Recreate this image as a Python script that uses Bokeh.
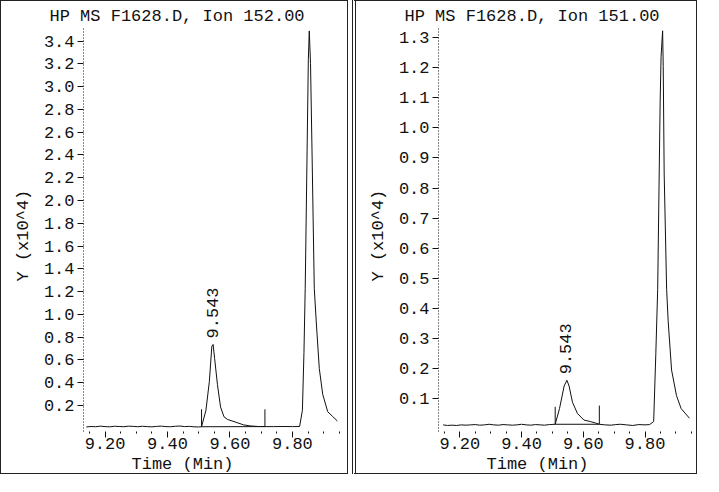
import math
from bokeh.plotting import figure
from bokeh.layouts import row
from bokeh.models import FixedTicker, Range1d, PrintfTickFormatter, Title
from bokeh.embed import file_html
from bokeh.resources import INLINE
from bokeh.core.properties import value

FONT = "Liberation Mono"
FS = "17px"
INK = "#111111"

# ---- Ion 152.00 (x10^4) ----
t152 = [9.140, 9.155, 9.170, 9.185, 9.200, 9.215, 9.230, 9.245, 9.260, 9.275,
        9.290, 9.305, 9.320, 9.335, 9.350, 9.365, 9.380, 9.395, 9.410, 9.425,
        9.440, 9.455, 9.470, 9.485, 9.500, 9.509,
        9.523, 9.534, 9.542, 9.546, 9.551, 9.560, 9.570, 9.581, 9.592, 9.613,
        9.644, 9.665, 9.690, 9.712,
        9.740, 9.770, 9.800, 9.823,
        9.832, 9.837, 9.841, 9.851, 9.854, 9.858, 9.863, 9.870, 9.876, 9.886,
        9.897, 9.913, 9.928, 9.944]
i152 = [0.010, 0.014, 0.012, 0.017, 0.013, 0.011, 0.016, 0.014, 0.012, 0.017,
        0.015, 0.012, 0.016, 0.013, 0.011, 0.015, 0.017, 0.013, 0.012, 0.016,
        0.018, 0.013, 0.015, 0.011, 0.010, 0.012,
        0.155, 0.409, 0.720, 0.735, 0.610, 0.381, 0.184, 0.099, 0.076, 0.057,
        0.028, 0.019, 0.014, 0.013,
        0.013, 0.014, 0.013, 0.014,
        0.155, 0.664, 1.229, 3.237, 3.490, 3.203, 2.400, 1.229, 0.949, 0.525,
        0.297, 0.144, 0.104, 0.062]
marks152_x = [9.509, 9.712]
marks152_base = [0.012, 0.013]
marks152_top = [0.165, 0.165]
peak152_rt = 9.543
peak152_h = 0.735
yticks152 = [0.2, 0.4, 0.6, 0.8, 1.0, 1.2, 1.4, 1.6, 1.8, 2.0, 2.2, 2.4, 2.6,
             2.8, 3.0, 3.2, 3.4]

# ---- Ion 151.00 (x10^4) ----
t151 = [9.146, 9.160, 9.175, 9.190, 9.205, 9.220, 9.235, 9.250, 9.265, 9.280,
        9.295, 9.310, 9.325, 9.340, 9.355, 9.370, 9.385, 9.400, 9.415, 9.430,
        9.445, 9.460, 9.475, 9.490, 9.509,
        9.523, 9.538, 9.547, 9.554, 9.565, 9.581, 9.602, 9.623, 9.640, 9.652,
        9.670, 9.690, 9.705, 9.720, 9.740, 9.760, 9.780, 9.800, 9.815, 9.828,
        9.835, 9.841, 9.849, 9.852, 9.857, 9.859, 9.862, 9.870, 9.875, 9.886,
        9.902, 9.917, 9.944]
i151 = [0.014, 0.012, 0.013, 0.012, 0.014, 0.013, 0.014, 0.015, 0.013, 0.014,
        0.016, 0.014, 0.013, 0.015, 0.014, 0.013, 0.014, 0.016, 0.014, 0.013,
        0.015, 0.014, 0.013, 0.015, 0.016,
        0.068, 0.143, 0.162, 0.143, 0.089, 0.052, 0.030, 0.025, 0.020, 0.016,
        0.014, 0.013, 0.015, 0.016, 0.014, 0.012, 0.015, 0.014, 0.015, 0.025,
        0.250, 0.464, 1.085, 1.236, 1.322, 1.204, 0.850, 0.464, 0.358, 0.196,
        0.111, 0.068, 0.036]
marks151_x = [9.509, 9.652]
marks151_base = [0.016, 0.016]
marks151_top = [0.074, 0.078]
peak151_rt = 9.543
peak151_h = 0.162
yticks151 = [0.1, 0.2, 0.3, 0.4, 0.5, 0.6, 0.7, 0.8, 0.9, 1.0, 1.1, 1.2, 1.3]

x_major = [9.20, 9.40, 9.60, 9.80]
x_minor = [9.15, 9.25, 9.30, 9.35, 9.45, 9.50, 9.55, 9.65, 9.70, 9.75, 9.85,
           9.90, 9.95]
x_label = "Time (Min)"
y_label = "Y (x10^4)"

H = 474


def style_title(tt):
    tt.text_font = FONT
    tt.text_font_size = FS
    tt.text_font_style = "normal"
    tt.text_color = INK


def panel(title, t, inten, yr, yticks, mx, mbase, mtop, rt, ph, styles, w):
    p = figure(width=w, height=H, output_backend="svg", toolbar_location=None,
               x_range=Range1d(9.131, 9.970), y_range=Range1d(*yr),
               min_border_left=82, min_border_right=4, min_border_top=26,
               min_border_bottom=0)
    p.outline_line_color = None
    p.grid.visible = False
    p.background_fill_color = "white"
    p.border_fill_color = "white"
    p.styles = styles

    p.title.text = title
    p.title.align = "left"
    p.title.offset = -34
    p.title.standoff = 4
    style_title(p.title)

    xt = Title(text=x_label, align="left", offset=48, standoff=3)
    style_title(xt)
    p.add_layout(xt, "below")

    yt = Title(text=y_label, align="left", offset=150, standoff=16)
    style_title(yt)
    p.add_layout(yt, "left")

    p.line(t, inten, line_color=INK, line_width=1)
    p.segment(x0=mx, y0=mbase, x1=mx, y1=mtop, line_color=INK, line_width=1)
    p.line(mx, mbase, line_color=INK, line_width=1)
    p.text(x=[rt], y=[ph], text=["%.3f" % rt], angle=math.pi / 2,
           text_align="left", text_baseline="middle", y_offset=-6,
           text_font=value(FONT), text_font_size=FS, text_color=INK)

    xa = p.xaxis[0]
    xa.ticker = FixedTicker(ticks=x_major, minor_ticks=x_minor)
    xa.formatter = PrintfTickFormatter(format="%.2f")
    xa.axis_line_color = None
    xa.major_tick_out = 6
    xa.major_tick_in = 0
    xa.minor_tick_out = 2
    xa.minor_tick_in = 0
    xa.major_tick_line_color = INK
    xa.minor_tick_line_color = INK
    xa.major_label_standoff = 0
    xa.major_label_text_font = FONT
    xa.major_label_text_font_size = FS
    xa.major_label_text_color = INK

    ya = p.yaxis[0]
    ya.ticker = FixedTicker(ticks=yticks)
    ya.formatter = PrintfTickFormatter(format="%.1f")
    ya.axis_line_color = INK
    ya.axis_line_dash = "1 2"
    ya.major_tick_out = 6
    ya.major_tick_in = 0
    ya.minor_tick_out = 0
    ya.major_tick_line_color = INK
    ya.major_label_standoff = 3
    ya.major_label_text_font = FONT
    ya.major_label_text_font_size = FS
    ya.major_label_text_color = INK
    return p


p1 = panel("HP MS F1628.D, Ion 152.00", t152, i152, (-0.03, 3.52), yticks152,
           marks152_x, marks152_base, marks152_top, peak152_rt, peak152_h,
           {"border": "1px solid #222"}, 348)
p2 = panel("HP MS F1628.D, Ion 151.00", t151, i151, (-0.008, 1.333), yticks151,
           marks151_x, marks151_base, marks151_top, peak151_rt, peak151_h,
           {"border": "1px solid #222", "border-left": "4px double #222"}, 345)

layout = row(p1, p2, spacing=4)
open("out.html", "w").write(file_html(layout, INLINE))
